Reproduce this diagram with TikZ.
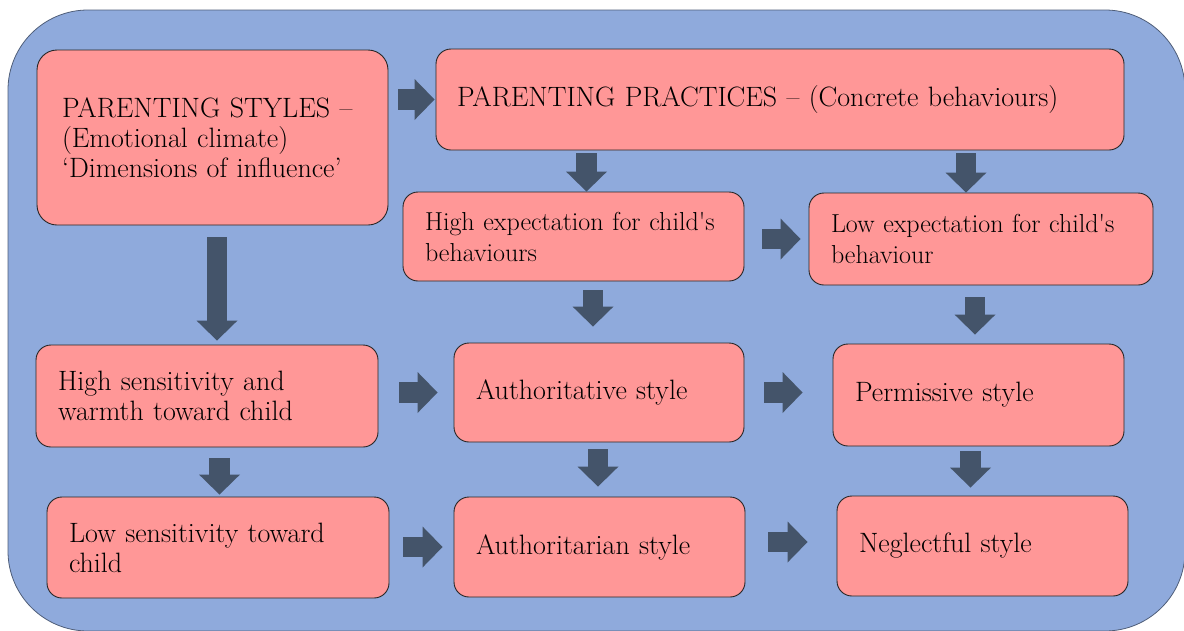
\documentclass[tikz,border=0pt]{standalone}
\usepackage{tikz}
\usetikzlibrary{arrows.meta}

\definecolor{bgblue}{HTML}{8FAADC}
\definecolor{boxpink}{HTML}{FF9797}
\definecolor{arrowgray}{HTML}{44546A}

\tikzset{
	pbox/.style={draw=black!85, line width=0.9pt, fill=boxpink, rounded corners=15pt,
		align=left, inner xsep=22pt, inner ysep=0pt, font=\fontsize{28pt}{30pt}\selectfont},
	smalltext/.style={font=\fontsize{26pt}{31pt}\selectfont},
	blockarrow/.style={draw=arrowgray, line width=20.5pt,
		-{Triangle[length=20pt, width=41pt, line width=0pt]}},
}

\begin{document}
\begin{tikzpicture}[x=1pt, y=-1pt]
		\useasboundingbox (0,0) rectangle (1184,630);
		\draw[fill=bgblue, draw=bgblue!55!black, line width=0.8pt, rounded corners=80pt] (8,10) rectangle (1185,631);

			\node	(styles) at (212.5,137.5) [pbox, rounded corners=20pt, inner xsep=25pt, text width=301pt, minimum height=175pt]
				{PARENTING STYLES --\\(Emotional climate)\\`Dimensions of influence'};
			\node	(practices) at (780,99.5) [pbox, inner xsep=21pt, text width=646pt, minimum height=101pt]
				{PARENTING PRACTICES -- (Concrete behaviours)};
			\node	(highexp) at (573.5,236.5) [pbox, smalltext, text width=297pt, minimum height=89pt]
				{High expectation for child\textquotesingle s\\behaviours};
			\node	(lowexp) at (981,239) [pbox, smalltext, text width=300pt, minimum height=92pt]
				{Low expectation for child\textquotesingle s\\behaviour};
			\node	(highsens) at (207,396) [pbox, text width=298pt, minimum height=102pt]
				{High sensitivity and\\warmth toward child};
			\node	(authoritative) at (599,392.5) [pbox, text width=246pt, minimum height=99pt]
				{Authoritative style};
			\node	(permissive) at (978.5,395) [pbox, text width=247pt, minimum height=102pt]
				{Permissive style};
			\node	(lowsens) at (218,547.5) [pbox, text width=298pt, minimum height=101pt]
				{Low sensitivity toward\\child};
			\node	(authoritarian) at (599.5,547) [pbox, text width=247pt, minimum height=100pt]
				{Authoritarian style};
			\node	(neglectful) at (982.5,546) [pbox, text width=247pt, minimum height=100pt]
				{Neglectful style};

			\draw
			(styles.east |- practices.west) edge[blockarrow, shorten <=10pt, shorten >=1pt] (practices.west)
			([xshift=13pt]highexp.north |- practices.south) edge[blockarrow, shorten <=3pt] ([xshift=13pt]highexp.north)
			([xshift=-15pt]lowexp.north |- practices.south) edge[blockarrow, shorten <=3pt] ([xshift=-15pt]lowexp.north)
			(highexp.east |- lowexp.west) edge[blockarrow, shorten <=18pt, shorten >=8pt] (lowexp.west)
			([xshift=4.5pt]styles.south) edge[blockarrow, shorten <=12pt, shorten >=4pt] ([xshift=4.5pt]styles.south |- highsens.north)
			([xshift=-6pt]authoritative.north |- highexp.south) edge[blockarrow, shorten <=9pt, shorten >=16pt] ([xshift=-6pt]authoritative.north)
			([xshift=-3.5pt]permissive.north |- lowexp.south) edge[blockarrow, shorten <=12pt, shorten >=9pt] ([xshift=-3.5pt]permissive.north)
			(highsens.east |- authoritative.west) edge[blockarrow, shorten <=21pt, shorten >=16pt] (authoritative.west)
			(authoritative.east) edge[blockarrow, shorten <=20pt, shorten >=30pt] (authoritative.east -| permissive.west)
			([xshift=1.5pt]lowsens.north |- highsens.south) edge[blockarrow, shorten <=11pt, shorten >=2pt] ([xshift=1.5pt]lowsens.north)
			([xshift=-1.5pt]authoritarian.north |- authoritative.south) edge[blockarrow, shorten <=7pt, shorten >=10pt] ([xshift=-1.5pt]authoritarian.north)
			([xshift=-12pt]neglectful.north |- permissive.south) edge[blockarrow, shorten <=5pt, shorten >=8pt] ([xshift=-12pt]neglectful.north)
			(lowsens.east |- authoritarian.west) edge[blockarrow, shorten <=14pt, shorten >=11pt] (authoritarian.west)
			([yshift=5pt]authoritarian.east) edge[blockarrow, shorten <=23pt, shorten >=29pt] ([yshift=5pt]authoritarian.east -| neglectful.west)
			;
\end{tikzpicture}
\end{document}
